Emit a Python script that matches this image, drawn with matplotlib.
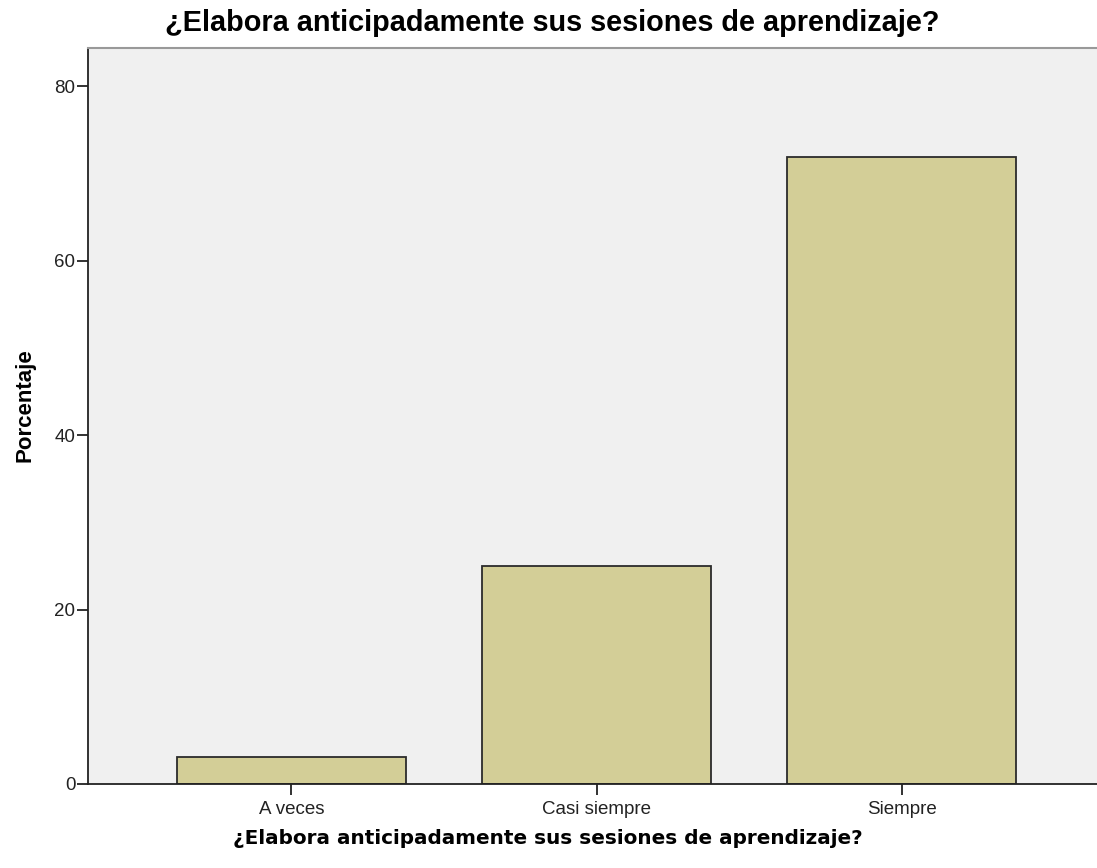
import numpy as np
import matplotlib
matplotlib.use('Agg')
import matplotlib.pyplot as plt

#%% data
categorias = ['A veces', 'Casi siempre', 'Siempre']
porcentaje = [3.1, 25.0, 71.9]
yticks = [0, 20, 40, 60, 80]
titulo = '¿Elabora anticipadamente sus sesiones de aprendizaje?'

#%% plot
fig = plt.figure(figsize=(10.97, 8.68), dpi=100)
ax = fig.add_axes([0.0802, 0.0968, 0.9198, 0.8479])
ax.set_facecolor('#F0F0F0')

x = np.arange(len(categorias))
ax.bar(x, porcentaje, width=0.75, color='#D3CE97', edgecolor='#2b2b2b', linewidth=1.3, zorder=2)

ax.set_xlim(-0.667, 2.64)
ax.set_ylim(0, 84.4)
ax.set_xticks(x)
ax.set_xticklabels(categorias, fontsize=13.5, family='Liberation Sans', color='#222222')
ax.set_yticks(yticks)
ax.set_yticklabels([str(t) for t in yticks], fontsize=13.5, family='Liberation Sans', color='#222222')
ax.tick_params(axis='both', length=8, width=1.3, color='#222222', pad=1)
ax.tick_params(axis='x', pad=4)

ax.spines['right'].set_visible(False)
ax.spines['top'].set_color('#999999')
ax.spines['top'].set_linewidth(1.5)
for side in ['left', 'bottom']:
    ax.spines[side].set_color('#222222')
    ax.spines[side].set_linewidth(1.3)

fig.text(25/1097, 1 - 405/868, 'Porcentaje', rotation=90, ha='center', va='center',
         fontsize=16, fontweight='bold', family='Liberation Sans')
fig.text(548/1097, 1 - 838/868, titulo, ha='center', va='center',
         fontsize=14.4, fontweight='bold', family='DejaVu Sans')
fig.text(552/1097, 1 - 23/868, titulo, ha='center', va='center',
         fontsize=20.8, fontweight='bold', family='Liberation Sans')

plt.savefig('out.png')
